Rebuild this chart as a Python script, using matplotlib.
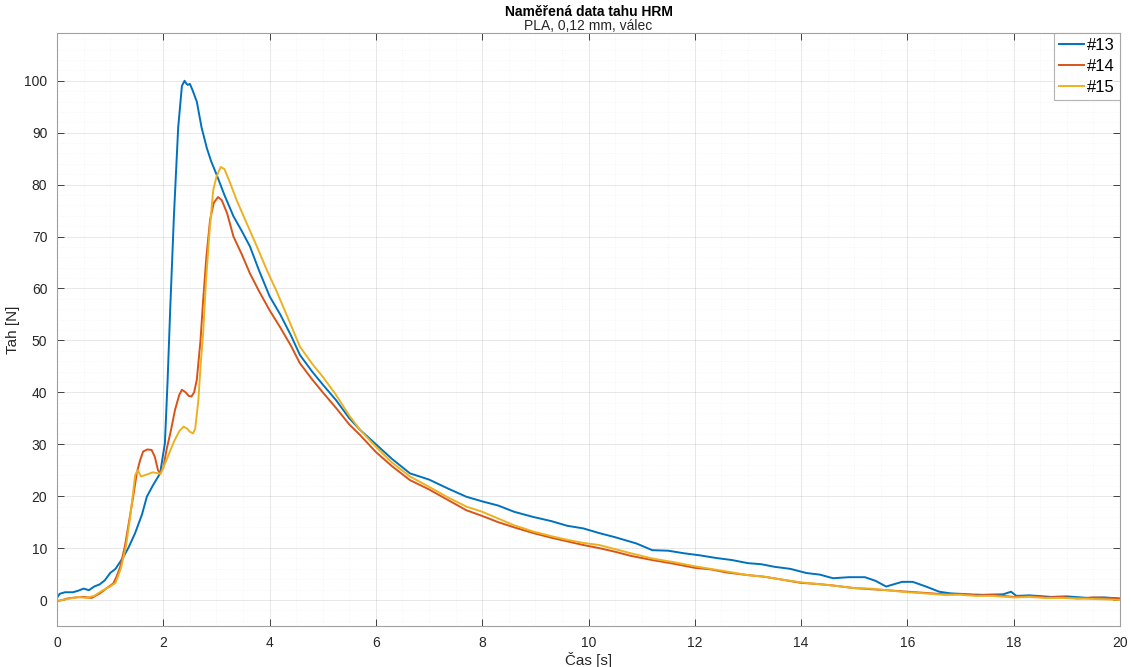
import matplotlib
matplotlib.use("Agg")
import matplotlib.pyplot as plt
from matplotlib.ticker import MultipleLocator

plt.rcParams['font.family'] = ['Liberation Sans', 'DejaVu Sans']

# ---------------- data ----------------
t13 = [0, 0.05, 0.15, 0.3, 0.4, 0.5, 0.6, 0.7, 0.8, 0.9, 1.0, 1.1, 1.25, 1.35, 1.47, 1.6, 1.69, 1.8,
       1.94, 2.03, 2.08, 2.13, 2.2, 2.28, 2.35, 2.4, 2.43, 2.46, 2.5, 2.55, 2.63, 2.72, 2.82, 2.9, 3.0,
       3.15, 3.32, 3.48, 3.63, 3.8, 4.0, 4.2, 4.4, 4.57, 4.8, 5.0, 5.25, 5.5, 5.7, 6.0, 6.3, 6.64, 7.0,
       7.35, 7.7, 8.0, 8.3, 8.6, 8.96, 9.3, 9.6, 9.9, 10.2, 10.5, 10.9, 11.2, 11.5, 11.8, 12.1, 12.4,
       12.7, 13.0, 13.25, 13.5, 13.8, 14.1, 14.35, 14.6, 14.9, 15.2, 15.4, 15.6, 15.9, 16.1, 16.35, 16.6,
       16.8, 17.1, 17.4, 17.8, 17.95, 18.05, 18.3, 18.7, 19.0, 19.4, 19.7, 20.0]
v13 = [0.4, 1.2, 1.5, 1.5, 1.8, 2.2, 1.9, 2.6, 3.0, 3.8, 5.2, 6.0, 8.3, 10.2, 12.9, 16.5, 19.9, 22.0,
       24.4, 30.2, 42, 56, 74, 91, 99, 100, 99.5, 99.2, 99.4, 98.2, 96, 91, 87, 84.5, 82,
       78, 73.9, 71, 68.1, 63.5, 58.5, 55, 51, 47.2, 44, 41.5, 38.5, 35, 32.8, 30.0, 27.2, 24.4, 23.2,
       21.5, 19.9, 19.0, 18.2, 17, 16, 15.2, 14.3, 13.8, 12.9, 12.1, 10.9, 9.6, 9.5, 9.0, 8.6, 8.1,
       7.7, 7.1, 6.9, 6.4, 6.0, 5.2, 4.9, 4.2, 4.4, 4.4, 3.7, 2.6, 3.5, 3.5, 2.6, 1.6,
       1.3, 1.1, 1.0, 1.1, 1.6, 0.8, 0.9, 0.6, 0.7, 0.4, 0.5, 0.3]

t14 = [0, 0.1, 0.2, 0.35, 0.5, 0.65, 0.81, 0.95, 1.06, 1.12, 1.19, 1.28, 1.37, 1.45, 1.5, 1.56, 1.62,
       1.7, 1.78, 1.84, 1.9, 1.94, 2.0, 2.06, 2.14, 2.22, 2.3, 2.35, 2.42, 2.48, 2.53, 2.58, 2.63, 2.7,
       2.75, 2.81, 2.88, 2.95, 3.03, 3.1, 3.2, 3.32, 3.48, 3.63, 3.8, 4.0, 4.2, 4.4, 4.57, 4.8, 5.0,
       5.25, 5.5, 5.7, 6.0, 6.3, 6.64, 7.0, 7.35, 7.7, 8.0, 8.3, 8.6, 8.96, 9.3, 9.6, 9.9, 10.2, 10.5,
       10.8, 11.2, 11.6, 12.0, 12.3, 12.6, 13.0, 13.3, 13.6, 14.0, 14.3, 14.6, 15.0, 15.3, 15.6, 16.0,
       16.3, 16.7, 17.0, 17.3, 17.6, 18.0, 18.3, 18.6, 18.9, 19.2, 19.5, 19.8, 20.0]
v14 = [-0.2, 0.0, 0.3, 0.5, 0.6, 0.4, 1.3, 2.4, 3.2, 4.5, 6.4, 10.5, 16.0, 21.0, 24.4, 26.8, 28.6,
       29.0, 28.9, 27.6, 25.0, 24.4, 25.5, 28.9, 32.5, 36.6, 39.5, 40.5, 40.0, 39.3, 39.2, 40.0, 42.4, 50,
       57.8, 66, 73.2, 76.5, 77.6, 77.0, 74.5, 70.0, 66.5, 62.9, 59.5, 55.8, 52.5, 49, 45.6, 42.5, 40.0,
       37.0, 33.8, 31.8, 28.5, 25.8, 23.1, 21.3, 19.3, 17.3, 16.2, 15.0, 14.0, 12.9, 12.0, 11.3, 10.6, 10.0, 9.3,
       8.5, 7.7, 7.0, 6.2, 5.9, 5.3, 4.8, 4.5, 4.0, 3.3, 3.1, 2.8, 2.3, 2.1, 1.9, 1.6,
       1.4, 1.1, 1.2, 0.9, 1.0, 0.6, 0.8, 0.5, 0.6, 0.3, 0.5, 0.4, 0.2]

t15 = [0, 0.1, 0.25, 0.4, 0.55, 0.7, 0.85, 1.0, 1.1, 1.2, 1.3, 1.37, 1.43, 1.47, 1.52, 1.58, 1.7, 1.8,
       1.9, 1.95, 2.06, 2.2, 2.3, 2.38, 2.45, 2.5, 2.56, 2.6, 2.66, 2.7, 2.75, 2.8, 2.87, 2.94, 3.0, 3.08,
       3.15, 3.25, 3.38, 3.55, 3.76, 3.95, 4.13, 4.35, 4.57, 4.8, 5.0, 5.25, 5.5, 5.7, 6.0, 6.3, 6.64,
       7.0, 7.35, 7.7, 8.0, 8.3, 8.6, 8.96, 9.3, 9.6, 9.9, 10.2, 10.5, 10.8, 11.2, 11.6, 12.0, 12.3, 12.6,
       13.0, 13.3, 13.6, 14.0, 14.3, 14.6, 15.0, 15.3, 15.6, 16.0, 16.3, 16.7, 17.0, 17.3, 17.6, 18.0,
       18.3, 18.6, 18.9, 19.2, 19.5, 19.8, 20.0]
v15 = [-0.3, 0.0, 0.3, 0.6, 0.4, 0.8, 1.8, 2.6, 3.3, 6.0, 10.5, 15.5, 20.5, 24.0, 25.0, 23.8, 24.2, 24.6,
       24.4, 24.3, 27.0, 30.5, 32.5, 33.4, 33.0, 32.4, 32.1, 33, 38.5, 45, 51.4, 61, 71, 79, 81.5, 83.4,
       83, 80.5, 77.0, 73, 68.1, 63.5, 59.5, 54.2, 48.8, 45.5, 43.0, 39.5, 35.5, 32.8, 29.5, 26.5, 23.8,
       21.8, 19.8, 18.0, 17.0, 15.7, 14.4, 13.2, 12.3, 11.6, 11.0, 10.6, 9.8, 9.0, 8.0, 7.3, 6.5, 6.0, 5.5,
       4.8, 4.5, 4.0, 3.4, 3.1, 2.8, 2.3, 2.2, 1.9, 1.5, 1.3, 1.0, 1.0, 0.8, 0.8, 0.5,
       0.6, 0.4, 0.4, 0.3, 0.2, 0.1, 0.0]

series_labels = ['#13', '#14', '#15']
colors = ['#0072BD', '#D95319', '#EDB120']
title = 'Naměřená data tahu HRM'
subtitle = 'PLA, 0,12 mm, válec'
xlabel = 'Čas [s]'
ylabel = 'Tah [N]'

# ---------------- plot ----------------
W, H = 1131, 667
fig = plt.figure(figsize=(W / 100, H / 100), dpi=100)
ax_left, ax_right, ax_top, ax_bottom = 57, 1120, 33, 626
ax = fig.add_axes([ax_left / W, (H - ax_bottom) / H, (ax_right - ax_left) / W, (ax_bottom - ax_top) / H])

for t, v, lab, c in zip([t13, t14, t15], [v13, v14, v15], series_labels, colors):
    ax.plot(t, v, color=c, lw=1.4, label=lab)

ax.set_xlim(0, 20)
ax.set_ylim(-5, 109.2)
ax.xaxis.set_major_locator(MultipleLocator(2))
ax.xaxis.set_minor_locator(MultipleLocator(0.5))
ax.yaxis.set_minor_locator(MultipleLocator(2))
ax.set_yticks(range(0, 101, 10))

ax.grid(which='major', color='#262626', alpha=0.12, lw=0.6)
ax.grid(which='minor', color='#262626', alpha=0.06, lw=0.5, ls=':')
ax.set_axisbelow(True)

ax.tick_params(which='major', direction='in', length=5, width=0.6, colors='#262626',
               top=True, right=True, labelsize=10, pad=7)
ax.tick_params(which='minor', length=0)
for s in ax.spines.values():
    s.set_color('#a0a0a0')
    s.set_linewidth(0.8)

ax.set_xlabel(xlabel, fontsize=11, color='#262626', labelpad=2)
ax.set_ylabel(ylabel, fontsize=11, color='#262626', labelpad=3)

cx = 0.5 * (ax_left + ax_right) / W
fig.text(cx, 1 - 12 / H, title, ha='center', va='center',
         fontsize=10, fontweight='bold', color='black')
fig.text(cx, 1 - 26 / H, subtitle, ha='center', va='center',
         fontsize=10, color='#262626')

leg = ax.legend(loc='upper right', fontsize=12, frameon=True, fancybox=False,
                borderaxespad=0.0, handlelength=1.5, handletextpad=0.2, labelspacing=0.35,
                borderpad=0.3)
leg.get_frame().set_edgecolor('#a0a0a0')
leg.get_frame().set_linewidth(0.8)

fig.savefig('out.png', dpi=100)
